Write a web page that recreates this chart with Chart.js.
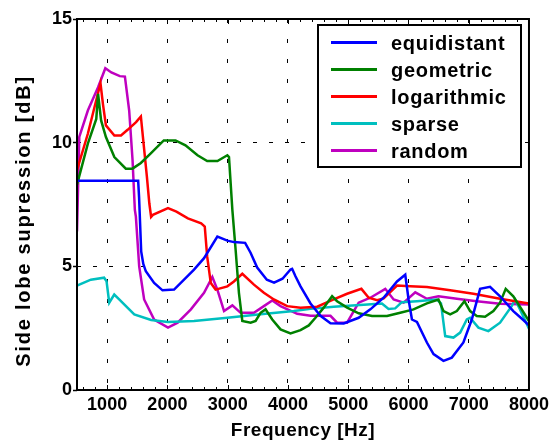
<!DOCTYPE html>
<html>
<head>
<meta charset="utf-8">
<script src="https://cdn.jsdelivr.net/npm/chart.js@4/dist/chart.umd.min.js"></script>
<style>
html,body{margin:0;padding:0;background:#fff;}
#wrap{width:553px;height:448px;position:relative;}
</style>
</head>
<body>
<div id="wrap"><canvas id="c" width="553" height="448"></canvas></div>
<script>
// ---- tick labels ----
const xTickValues = [1000, 2000, 3000, 4000, 5000, 6000, 7000, 8000];
const yTickValues = [0, 5, 10, 15];
const xTitle = 'Frequency [Hz]';
const yTitle = 'Side lobe supression [dB]';
const seriesNames = ['equidistant', 'geometric', 'logarithmic', 'sparse', 'random'];

// ---- series values (Hz, dB) ----
const equidistantHz = [500,1515,1530,1565,1600,1642,1780,1919,2111,2442,2608,2829,2995,3104,3290,3380,3490,3650,3770,3910,4043,4070,4125,4209,4375,4540,4706,4926,5174,5368,5588,5810,5947,6002,6058,6141,6306,6416,6581,6720,6912,7051,7189,7354,7520,7740,7906,8000];
const equidistantDb = [8.46,8.46,7.8,5.6,5.1,4.8,4.33,4.03,4.06,4.87,5.33,6.2,6.04,5.98,5.95,5.55,4.95,4.46,4.34,4.5,4.87,4.9,4.6,4.19,3.5,3.0,2.7,2.69,2.92,3.26,3.73,4.39,4.66,3.66,2.85,2.75,1.92,1.45,1.18,1.31,1.92,2.85,4.09,4.17,3.79,3.19,2.83,2.61];

const geometricHz = [500,680,820,850,900,980,1120,1310,1420,1560,1720,1940,2135,2300,2500,2660,2830,2995,3022,3078,3132,3187,3243,3381,3464,3546,3629,3740,3877,4043,4209,4346,4457,4594,4733,4816,4982,5174,5396,5644,5864,6084,6306,6498,6581,6692,6803,6929,7023,7134,7271,7409,7520,7614,7740,7879,8000];
const geometricDb = [8.3,9.96,10.96,11.97,10.9,10.23,9.42,8.95,8.95,9.18,9.56,10.09,10.09,9.89,9.49,9.26,9.26,9.49,9.42,7.28,5.67,3.93,2.79,2.72,2.79,3.12,3.26,2.85,2.45,2.29,2.42,2.61,2.92,3.33,3.79,3.59,3.33,3.10,2.99,2.99,3.12,3.26,3.50,3.66,3.19,3.06,3.19,3.59,3.19,2.99,2.96,3.19,3.53,4.09,3.79,3.26,2.79];

const logarithmicHz = [500,680,790,890,930,980,1120,1230,1340,1480,1560,1605,1660,1700,1730,1760,2010,2150,2340,2560,2620,2660,2720,2800,2995,3104,3243,3436,3601,3767,3988,4209,4485,4760,4982,5219,5340,5480,5588,5810,6030,6306,6692,7078,7520,8000];
const logarithmicDb = [8.89,10.36,11.43,12.40,11.57,10.70,10.29,10.29,10.52,10.83,11.06,9.96,8.62,7.55,7.0,7.08,7.35,7.21,6.94,6.74,6.61,5.40,4.33,4.06,4.19,4.39,4.70,4.26,3.93,3.66,3.39,3.33,3.37,3.66,3.89,4.09,3.73,3.63,3.70,4.22,4.19,4.16,4.03,3.89,3.69,3.50];

const sparseHz = [500,730,950,990,1035,1118,1200,1450,1730,2010,2442,2995,3546,4098,4375,4760,5320,5560,5670,5780,5890,6141,6470,6540,6610,6747,6858,6969,7023,7161,7326,7520,7713,7768,7851,8000];
const sparseDb = [4.22,4.46,4.54,4.4,3.53,3.86,3.66,3.06,2.83,2.75,2.79,2.92,3.06,3.19,3.28,3.37,3.46,3.50,3.28,3.30,3.55,3.59,3.66,3.5,2.18,2.12,2.32,2.85,2.92,2.52,2.38,2.72,3.39,3.66,3.26,2.48];

const randomHz = [500,538,680,850,970,1070,1210,1295,1366,1422,1460,1477,1532,1614,1780,2010,2170,2390,2608,2746,2829,2940,3078,3215,3436,3601,3740,3877,4154,4375,4706,4816,4982,5174,5368,5616,5754,5920,6113,6306,6498,6803,7134,7520,8000];
const randomDb = [6.41,10.23,11.30,12.24,13.01,12.84,12.69,12.67,11.30,9.29,7.28,7.01,5.00,3.66,2.85,2.52,2.72,3.26,3.93,4.57,4.06,3.19,3.42,3.12,3.12,3.39,3.62,3.39,3.08,3.0,3.0,2.72,2.72,3.53,3.73,4.09,3.66,3.53,3.95,3.69,3.79,3.69,3.59,3.49,3.46];

const seriesHz = [equidistantHz, geometricHz, logarithmicHz, sparseHz, randomHz];
const seriesDb = [equidistantDb, geometricDb, logarithmicDb, sparseDb, randomDb];
const seriesColors = ['#0000ff', '#008000', '#ff0000', '#00bfbf', '#bf00bf'];

const FONT = '"Liberation Sans", Arial, Helvetica, sans-serif';

const datasets = seriesNames.map((name, i) => ({
  label: name,
  data: seriesHz[i].map((hz, k) => ({x: hz, y: seriesDb[i][k]})),
  borderColor: seriesColors[i],
  backgroundColor: seriesColors[i],
  borderWidth: 2.5,
  pointRadius: 0,
  tension: 0,
  fill: false
}));

const overlay = {
  id: 'overlay',
  afterDatasetsDraw(chart) {
    const ctx = chart.ctx;
    const ca = chart.chartArea;
    const xs = chart.scales.x;
    ctx.save();
    // inward minor/major ticks on bottom and top
    ctx.strokeStyle = '#000';
    ctx.lineWidth = 1;
    ctx.beginPath();
    for (let v = xs.min + 100; v < xs.max; v += 200) {
      const px = Math.round(xs.getPixelForValue(v)) + 0.5;
      const len = (v % 1000 === 0) ? 5 : 3;
      ctx.moveTo(px, ca.bottom); ctx.lineTo(px, ca.bottom - len);
      ctx.moveTo(px, ca.top); ctx.lineTo(px, ca.top + len);
    }
    ctx.stroke();
    // axes box
    ctx.lineWidth = 2;
    ctx.strokeRect(ca.left, ca.top, ca.right - ca.left, ca.bottom - ca.top);

    // legend
    const lx = 318, ly = 25, lw = 203, lh = 142;
    ctx.fillStyle = '#fff';
    ctx.fillRect(lx, ly, lw, lh);
    ctx.lineWidth = 2;
    ctx.strokeStyle = '#000';
    ctx.strokeRect(lx, ly, lw, lh);
    ctx.font = 'bold 20px ' + FONT;
    ctx.textBaseline = 'alphabetic';
    ctx.textAlign = 'left';
    try { ctx.letterSpacing = '0.7px'; } catch (e) {}
    chart.data.datasets.forEach((ds, i) => {
      const yy = 42.5 + i * 27;
      ctx.strokeStyle = ds.borderColor;
      ctx.lineWidth = 3;
      ctx.beginPath();
      ctx.moveTo(331, yy); ctx.lineTo(377, yy);
      ctx.stroke();
      ctx.fillStyle = '#000';
      ctx.fillText(ds.label, 391, 50 + i * 27);
    });

    // axis titles
    ctx.fillStyle = '#000';
    ctx.font = 'bold 19px ' + FONT;
    try { ctx.letterSpacing = '0.5px'; } catch (e) {}
    ctx.textAlign = 'center';
    ctx.textBaseline = 'alphabetic';
    ctx.fillText(xTitle, (ca.left + ca.right) / 2, 436);
    ctx.save();
    ctx.translate(30, 221);
    ctx.rotate(-Math.PI / 2);
    ctx.font = 'bold 20px ' + FONT;
    try { ctx.letterSpacing = '1.8px'; } catch (e) {}
    ctx.fillText(yTitle, 0, 0);
    ctx.restore();
    ctx.restore();
  }
};

new Chart(document.getElementById('c'), {
  type: 'line',
  data: { datasets },
  options: {
    responsive: false,
    animation: false,
    devicePixelRatio: 1,
    layout: { padding: { left: 0, right: 23, top: 19, bottom: 0 } },
    plugins: { legend: { display: false }, tooltip: { enabled: false } },
    scales: {
      x: {
        type: 'linear',
        min: 500,
        max: 8000,
        afterBuildTicks: s => { s.ticks = xTickValues.map(v => ({ value: v })); },
        afterFit: s => { s.height = 58; },
        grid: { color: '#000', lineWidth: 1, drawTicks: false },
        border: { display: false, dash: [4, 16] },
        ticks: {
          color: '#000',
          padding: 4,
          maxRotation: 0,
          autoSkip: false,
          callback: v => String(v),
          font: { family: FONT, size: 18, weight: 'bold' }
        }
      },
      y: {
        type: 'linear',
        min: 0,
        max: 15,
        afterBuildTicks: s => { s.ticks = yTickValues.map(v => ({ value: v })); },
        afterFit: s => { s.width = 77; },
        grid: { color: '#000', lineWidth: 1, drawTicks: true, tickLength: 4, tickColor: '#000', tickWidth: 1.5 },
        border: { display: false, dash: [4, 12] },
        ticks: {
          color: '#000',
          padding: 1,
          autoSkip: false,
          callback: v => String(v),
          font: { family: FONT, size: 18, weight: 'bold' }
        }
      }
    }
  },
  plugins: [overlay]
});
</script>
</body>
</html>
